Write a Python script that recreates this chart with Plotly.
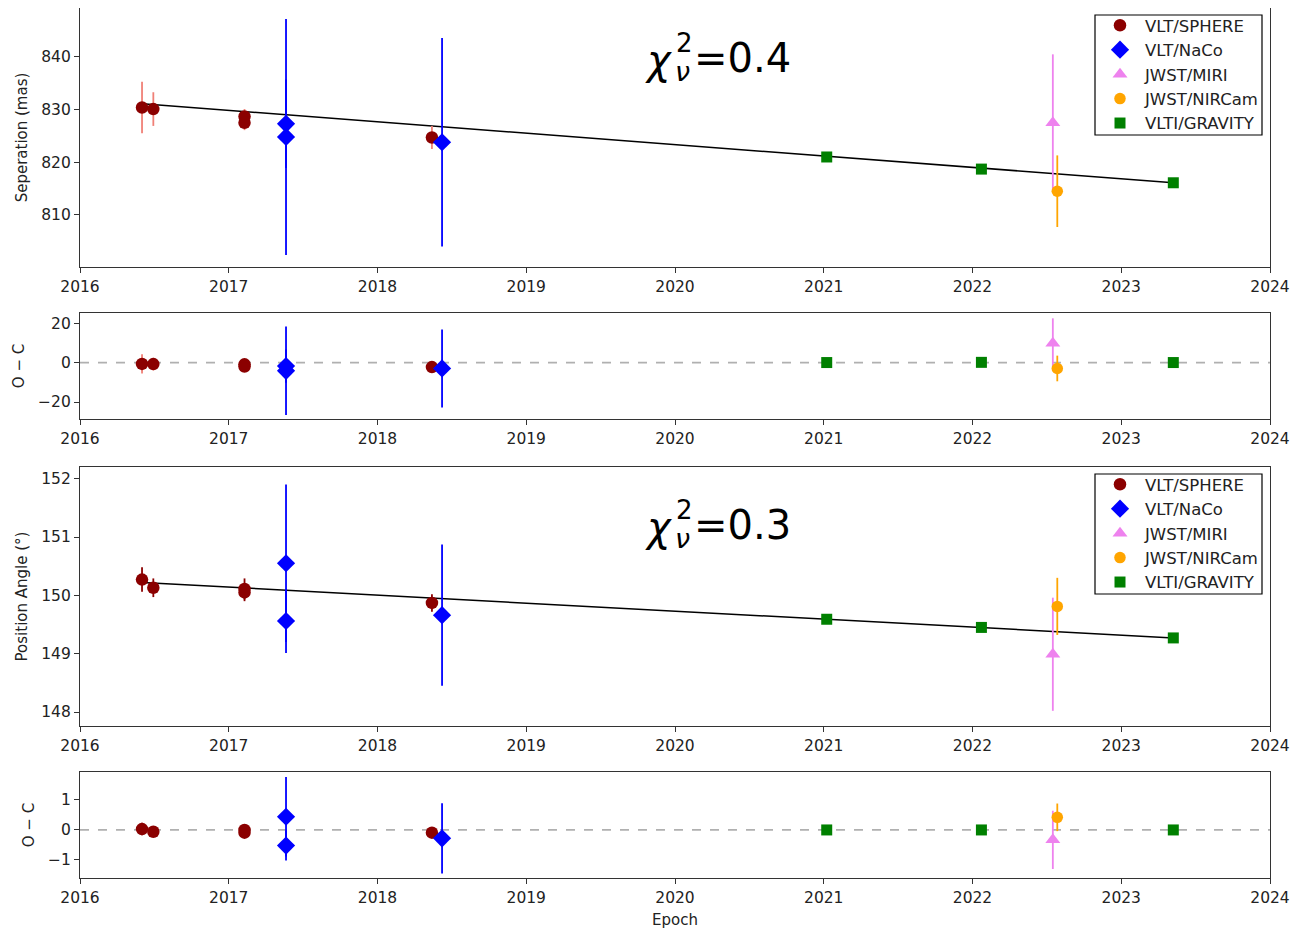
import plotly.graph_objects as go
from plotly.subplots import make_subplots

# ---------------- data ----------------
sphere_epoch = [2016.417, 2016.493, 2017.106, 2017.106, 2018.366]
sphere_sep = [830.4, 830.1, 828.7, 827.5, 824.7]
sphere_sep_err = [4.9, 3.2, 1.4, 1.4, 2.2]
sphere_sep_res = [-0.7, -0.8, -0.9, -2.0, -2.3]
sphere_pa = [150.27, 150.13, 150.11, 150.05, 149.87]
sphere_pa_err = [0.21, 0.16, 0.18, 0.15, 0.15]
sphere_pa_res = [0.03, -0.06, 0.0, -0.09, -0.09]

naco_epoch = [2017.385, 2017.385, 2018.434]
naco_sep = [827.3, 824.8, 823.8]
naco_sep_err = [8.4, 22.4, 19.8]
naco_sep_res = [-1.8, -4.2, -3.0]
naco_pa = [150.55, 149.56, 149.66]
naco_pa_err = [1.35, 0.55, 1.21]
naco_pa_res = [0.44, -0.52, -0.28]
naco_pa_res_err = [1.32, 0.50, 1.17]

miri_epoch = [2022.54]
miri_sep = [827.5]
miri_sep_err = [13.0]
miri_sep_res = [9.8]
miri_sep_res_err = [12.6]
miri_pa = [148.99]
miri_pa_err = [0.97]
miri_pa_res = [-0.33]
miri_pa_res_err = [0.97]

nircam_epoch = [2022.57]
nircam_sep = [814.5]
nircam_sep_err = [6.8]
nircam_sep_res = [-3.0]
nircam_sep_res_err = [6.5]
nircam_pa = [149.81]
nircam_pa_err = [0.49]
nircam_pa_res = [0.42]
nircam_pa_res_err = [0.46]

gravity_epoch = [2021.02, 2022.06, 2023.35]
gravity_sep = [821.0, 818.7, 816.1]
gravity_sep_err = [0.1, 0.1, 0.1]
gravity_sep_res = [0.0, 0.1, 0.0]
gravity_pa = [149.59, 149.45, 149.27]
gravity_pa_err = [0.01, 0.01, 0.01]
gravity_pa_res = [0.0, 0.0, 0.0]

fit_epoch = [2016.42, 2023.35]
fit_sep = [831.1, 816.1]
fit_pa = [150.22, 149.27]

chi_sep = "0.4"
chi_pa = "0.3"

year_ticks = [2016, 2017, 2018, 2019, 2020, 2021, 2022, 2023, 2024]

# ---------------- styles ----------------
FONT = "DejaVu Sans"
C_SPH = "#8b0000"
C_SPH_ERR = "#f08077"
C_NACO = "#0000ff"
C_MIRI = "#ee82ee"
C_NIR = "#ffa500"
C_GRAV = "#008000"

fig = make_subplots(rows=4, cols=1)

def add_set(row, legend, show, sph, sph_err, sph_err_col, naco, naco_err,
            miri, miri_err, nir, nir_err, grav, grav_err):
    specs = [
        ("VLT/SPHERE", sphere_epoch, sph, sph_err, C_SPH, sph_err_col, "circle", 12.5),
        ("VLT/NaCo", naco_epoch, naco, naco_err, C_NACO, C_NACO, "diamond", 14),
        ("JWST/MIRI", miri_epoch, miri, miri_err, C_MIRI, C_MIRI, "triangle-up", 13),
        ("JWST/NIRCam", nircam_epoch, nir, nir_err, C_NIR, C_NIR, "circle", 11.5),
        ("VLTI/GRAVITY", gravity_epoch, grav, grav_err, C_GRAV, C_GRAV, "square", 11),
    ]
    for name, x, y, e, col, ecol, sym, sz in specs:
        fig.add_trace(go.Scatter(
            x=x, y=y, mode="markers", name=name,
            marker=dict(color=col, symbol=sym, size=sz, line=dict(width=0)),
            error_y=dict(type="data", array=e, visible=True, color=ecol,
                         thickness=1.8, width=0),
            showlegend=show, legend=legend), row=row, col=1)

# panel 1: separation
fig.add_trace(go.Scatter(x=fit_epoch, y=fit_sep, mode="lines",
                         line=dict(color="black", width=1.5), showlegend=False),
              row=1, col=1)
add_set(1, "legend", True, sphere_sep, sphere_sep_err, C_SPH_ERR,
        naco_sep, naco_sep_err, miri_sep, miri_sep_err,
        nircam_sep, nircam_sep_err, gravity_sep, gravity_sep_err)

# panel 2: sep residuals
add_set(2, "legend", False, sphere_sep_res, sphere_sep_err, C_SPH_ERR,
        naco_sep_res, naco_sep_err, miri_sep_res, miri_sep_res_err,
        nircam_sep_res, nircam_sep_res_err, gravity_sep_res, gravity_sep_err)

# panel 3: PA
fig.add_trace(go.Scatter(x=fit_epoch, y=fit_pa, mode="lines",
                         line=dict(color="black", width=1.5), showlegend=False),
              row=3, col=1)
add_set(3, "legend2", True, sphere_pa, sphere_pa_err, C_SPH,
        naco_pa, naco_pa_err, miri_pa, miri_pa_err,
        nircam_pa, nircam_pa_err, gravity_pa, gravity_pa_err)

# panel 4: PA residuals
add_set(4, "legend2", False, sphere_pa_res, sphere_pa_err, C_SPH,
        naco_pa_res, naco_pa_res_err, miri_pa_res, miri_pa_res_err,
        nircam_pa_res, nircam_pa_res_err, gravity_pa_res, gravity_pa_err)

for r in (2, 4):
    fig.add_hline(y=0, line=dict(color="#b0b0b0", dash="dash", width=1.8),
                  row=r, col=1, layer="below")

# ---------------- layout ----------------
OFF = 8  # page body margin
W, H = 1301 - OFF, 930 - OFF
L, R, T, B = 80 - OFF, 1301 - 1270, 0, 930 - 878
PW, PH = W - L - R, H - T - B

def py(yp):
    return (H - B - (yp - OFF)) / PH

def px(xp):
    return (xp - OFF - L) / PW

domains = [(py(267), py(8)), (py(419), py(313)), (py(726), py(467)), (py(878), py(772))]
yranges = [[800.1, 849.3], [-28.6, 25.1], [147.76, 152.2], [-1.6, 1.93]]
yticks = [[810, 820, 830, 840], [-20, 0, 20], [148, 149, 150, 151, 152], [-1, 0, 1]]
ytitles = ["Seperation (mas)", "O − C", "Position Angle (°)", "O − C"]

axis_common = dict(showline=True, mirror=True, linecolor="#333333", linewidth=1.3,
                   ticks="outside", ticklen=5, tickwidth=1.2, tickcolor="#333333",
                   showgrid=False, zeroline=False,
                   tickfont=dict(family=FONT, size=15.5, color="#222222"))

for i in range(4):
    n = "" if i == 0 else str(i + 1)
    fig.layout["xaxis" + n].update(range=[2016, 2024], tickvals=year_ticks,
                                   domain=[0, 1], **axis_common)
    fig.layout["yaxis" + n].update(range=yranges[i], tickvals=yticks[i],
                                   domain=[max(0, domains[i][0]), min(1, domains[i][1])],
                                   title=dict(text=ytitles[i], standoff=9,
                                              font=dict(family=FONT, size=15, color="#222222")),
                                   **axis_common)
fig.layout["xaxis4"].update(title=dict(text="Epoch", standoff=8,
                                       font=dict(family=FONT, size=15, color="#222222")))

legend_style = dict(font=dict(family=FONT, size=16.5, color="#222222"),
                    borderwidth=0, bgcolor="rgba(0,0,0,0)",
                    xanchor="left", yanchor="top", tracegroupgap=0, itemwidth=40)
fig.update_layout(
    width=W, height=H, plot_bgcolor="white", paper_bgcolor="white",
    margin=dict(l=L, r=R, t=T, b=B),
    legend=dict(x=px(1095), y=py(8), **legend_style),
    legend2=dict(x=px(1095), y=py(467), **legend_style),
    font=dict(family=FONT),
)

# legend frames
for (x0, y0, x1, y1) in [(1095, 15, 1262, 135), (1095, 474, 1262, 594)]:
    fig.add_shape(type="rect", xref="paper", yref="paper",
                  x0=px(x0), x1=px(x1), y0=py(y1), y1=py(y0),
                  line=dict(color="black", width=1.2), fillcolor="white", layer="below")

# chi-square annotations (stacked super/subscripts)
def chi(base, val):
    anns = [
        dict(text="<i>χ</i>", x=px(674), y=py(base + 60), xanchor="right", yanchor="middle", size=40),
        dict(text="2", x=px(674), y=py(base + 43), xanchor="left", yanchor="middle", size=26),
        dict(text="<i>ν</i>", x=px(673), y=py(base + 71), xanchor="left", yanchor="middle", size=27),
        dict(text="=" + val, x=px(692), y=py(base + 58), xanchor="left", yanchor="middle", size=40),
    ]
    for a in anns:
        fig.add_annotation(text=a["text"], x=a["x"], y=a["y"], xref="paper", yref="paper",
                           xanchor=a["xanchor"], yanchor=a["yanchor"], showarrow=False,
                           font=dict(family=FONT, size=a["size"], color="black"))

chi(0, chi_sep)
chi(467, chi_pa)

fig.write_html("out.html")
